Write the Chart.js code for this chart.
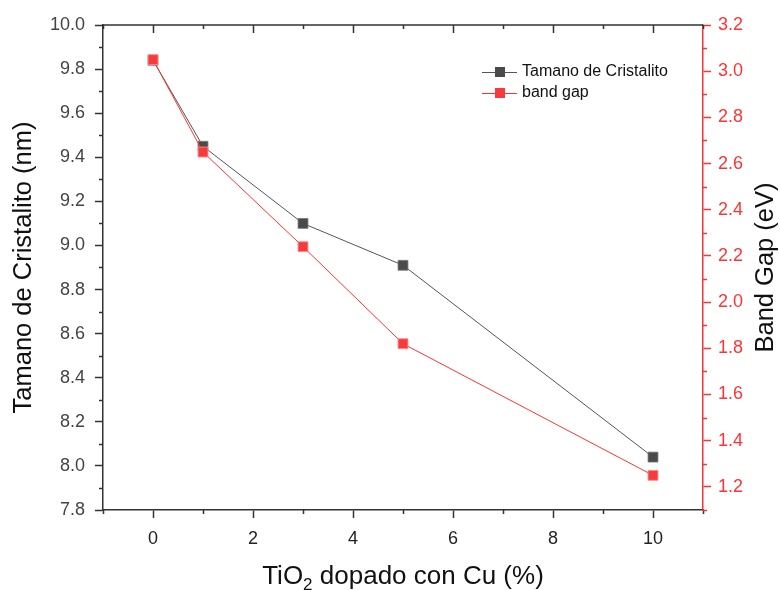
<!DOCTYPE html>
<html>
<head>
<meta charset="utf-8">
<script src="https://cdn.jsdelivr.net/npm/chart.js@4/dist/chart.umd.min.js"></script>
<style>
  body { margin: 0; background: #fff; }
  #wrap { width: 780px; height: 590px; }
</style>
</head>
<body>
<div id="wrap"><canvas id="bandChart" width="780" height="590"></canvas></div>
<script>
// values
const dopingPct = [0, 1, 3, 5, 10];
const crystalSize = [9.84, 9.45, 9.10, 8.91, 8.04];
const bandGap = [3.05, 2.65, 2.24, 1.82, 1.25];

// tick values
const xMajorTicks = [0, 2, 4, 6, 8, 10];
const xMinorTicks = [-1, 1, 3, 5, 7, 9, 11];
const leftMajorTicks = [7.8, 8.0, 8.2, 8.4, 8.6, 8.8, 9.0, 9.2, 9.4, 9.6, 9.8, 10.0];
const leftMinorTicks = [7.9, 8.1, 8.3, 8.5, 8.7, 8.9, 9.1, 9.3, 9.5, 9.7, 9.9];
const rightMajorTicks = [1.2, 1.4, 1.6, 1.8, 2.0, 2.2, 2.4, 2.6, 2.8, 3.0, 3.2];
const rightMinorTicks = [1.1, 1.3, 1.5, 1.7, 1.9, 2.1, 2.3, 2.5, 2.7, 2.9, 3.1];

const seriesNames = ['Tamano de Cristalito', 'band gap'];

const FONT = 'Arial, "Liberation Sans", sans-serif';
const AXIS_DARK = '#333333';
const RED = '#ff3333';

// Draws minor ticks, top frame, axis titles and the legend
const extrasPlugin = {
    id: 'extras',
    afterDraw(chart) {
        const ctx = chart.ctx;
        const area = chart.chartArea;
        const xs = chart.scales.x;
        const yl = chart.scales.y;
        const yr = chart.scales.y2;

        ctx.save();
        ctx.lineWidth = 1.5;

        // top frame line with inward ticks
        ctx.strokeStyle = AXIS_DARK;
        ctx.beginPath();
        ctx.moveTo(area.left, area.top);
        ctx.lineTo(area.right, area.top);
        xMajorTicks.forEach(v => {
            const px = Math.round(xs.getPixelForValue(v)) + 0.5;
            ctx.moveTo(px, area.top);
            ctx.lineTo(px, area.top + 8);
        });
        xMinorTicks.forEach(v => {
            const px = Math.round(xs.getPixelForValue(v)) + 0.5;
            ctx.moveTo(px, area.top);
            ctx.lineTo(px, area.top + 4);
        });
        ctx.stroke();

        // bottom minor ticks
        ctx.beginPath();
        xMinorTicks.forEach(v => {
            const px = Math.round(xs.getPixelForValue(v)) + 0.5;
            ctx.moveTo(px, area.bottom);
            ctx.lineTo(px, area.bottom + 4);
        });
        // left minor ticks
        leftMinorTicks.forEach(v => {
            const py = Math.round(yl.getPixelForValue(v)) + 0.5;
            ctx.moveTo(area.left, py);
            ctx.lineTo(area.left - 4, py);
        });
        ctx.stroke();

        // right minor ticks
        ctx.strokeStyle = RED;
        ctx.beginPath();
        rightMinorTicks.forEach(v => {
            const py = Math.round(yr.getPixelForValue(v)) + 0.5;
            ctx.moveTo(area.right, py);
            ctx.lineTo(area.right + 4, py);
        });
        ctx.stroke();

        // axis titles
        ctx.fillStyle = '#111';
        ctx.font = '25.5px ' + FONT;
        ctx.textAlign = 'center';
        ctx.textBaseline = 'middle';
        const midY = (area.top + area.bottom) / 2;

        ctx.save();
        ctx.translate(24, midY);
        ctx.rotate(-Math.PI / 2);
        ctx.fillText('Tamano de Cristalito (nm)', 0, 0);
        ctx.restore();

        ctx.save();
        ctx.translate(766, midY);
        ctx.rotate(-Math.PI / 2);
        ctx.fillText('Band Gap (eV)', 0, 0);
        ctx.restore();

        // x title with subscript
        const partA = 'TiO';
        const sub = '2';
        const partB = ' dopado con Cu (%)';
        ctx.font = '26px ' + FONT;
        const wA = ctx.measureText(partA).width;
        const wB = ctx.measureText(partB).width;
        ctx.font = '17px ' + FONT;
        const wS = ctx.measureText(sub).width;
        const total = wA + wS + wB;
        let tx = (area.left + area.right) / 2 - total / 2;
        const ty = 577;
        ctx.textAlign = 'left';
        ctx.font = '26px ' + FONT;
        ctx.fillText(partA, tx, ty);
        tx += wA;
        ctx.font = '17px ' + FONT;
        ctx.fillText(sub, tx, ty + 8);
        tx += wS;
        ctx.font = '26px ' + FONT;
        ctx.fillText(partB, tx, ty);

        // legend
        ctx.font = '16px ' + FONT;
        chart.data.datasets.forEach((ds, i) => {
            const ly = 72 + i * 21;
            ctx.strokeStyle = ds.borderColor;
            ctx.lineWidth = 1;
            ctx.beginPath();
            ctx.moveTo(482, ly + 0.5);
            ctx.lineTo(517, ly + 0.5);
            ctx.stroke();
            ctx.fillStyle = ds.pointBackgroundColor;
            ctx.fillRect(495, ly - 5, 10, 10);
            ctx.fillStyle = '#111';
            ctx.fillText(seriesNames[i], 522, ly);
        });

        ctx.restore();
    }
};

new Chart(document.getElementById('bandChart'), {
    type: 'scatter',
    data: {
        datasets: [
            {
                label: seriesNames[0],
                data: dopingPct.map((x, i) => ({ x: x, y: crystalSize[i] })),
                yAxisID: 'y',
                showLine: true,
                borderColor: '#555555',
                borderWidth: 1,
                pointStyle: 'rect',
                pointRadius: 7,
                pointBackgroundColor: '#4a4a4a',
                pointBorderColor: 'rgba(120,120,120,0.8)',
                pointBorderWidth: 1,
                order: 1
            },
            {
                label: seriesNames[1],
                data: dopingPct.map((x, i) => ({ x: x, y: bandGap[i] })),
                yAxisID: 'y2',
                showLine: true,
                borderColor: RED,
                borderWidth: 1,
                pointStyle: 'rect',
                pointRadius: 7,
                pointBackgroundColor: '#f53b3b',
                pointBorderColor: 'rgba(255,140,140,0.9)',
                pointBorderWidth: 1,
                order: 0
            }
        ]
    },
    options: {
        responsive: false,
        animation: false,
        layout: { padding: { top: 25, left: 0, right: 0, bottom: 0 } },
        plugins: {
            legend: { display: false },
            tooltip: { enabled: false }
        },
        scales: {
            x: {
                type: 'linear',
                position: 'bottom',
                min: -1,
                max: 11,
                afterBuildTicks: s => { s.ticks = xMajorTicks.map(v => ({ value: v })); },
                afterFit: s => { s.height = 80; },
                border: { color: AXIS_DARK, width: 1.5 },
                grid: { drawOnChartArea: false, tickLength: 8, tickColor: AXIS_DARK, tickWidth: 1.5 },
                ticks: {
                    color: '#222',
                    font: { family: FONT, size: 18 },
                    padding: 10,
                    callback: v => String(v)
                }
            },
            y: {
                type: 'linear',
                position: 'left',
                min: 7.8,
                max: 10.0,
                afterBuildTicks: s => { s.ticks = leftMajorTicks.map(v => ({ value: v })); },
                afterFit: s => { s.width = 103; },
                border: { color: AXIS_DARK, width: 1.5 },
                grid: { drawOnChartArea: false, tickLength: 8, tickColor: AXIS_DARK, tickWidth: 1.5 },
                ticks: {
                    color: '#444',
                    font: { family: FONT, size: 18 },
                    padding: 10,
                    callback: v => v.toFixed(1)
                }
            },
            y2: {
                type: 'linear',
                position: 'right',
                min: 1.1,
                max: 3.2,
                afterBuildTicks: s => { s.ticks = rightMajorTicks.map(v => ({ value: v })); },
                afterFit: s => { s.width = 77; },
                border: { color: RED, width: 1.5 },
                grid: { drawOnChartArea: false, tickLength: 8, tickColor: RED, tickWidth: 1.5 },
                ticks: {
                    color: RED,
                    font: { family: FONT, size: 18 },
                    padding: 7,
                    callback: v => v.toFixed(1)
                }
            }
        }
    },
    plugins: [extrasPlugin]
});
</script>
</body>
</html>
